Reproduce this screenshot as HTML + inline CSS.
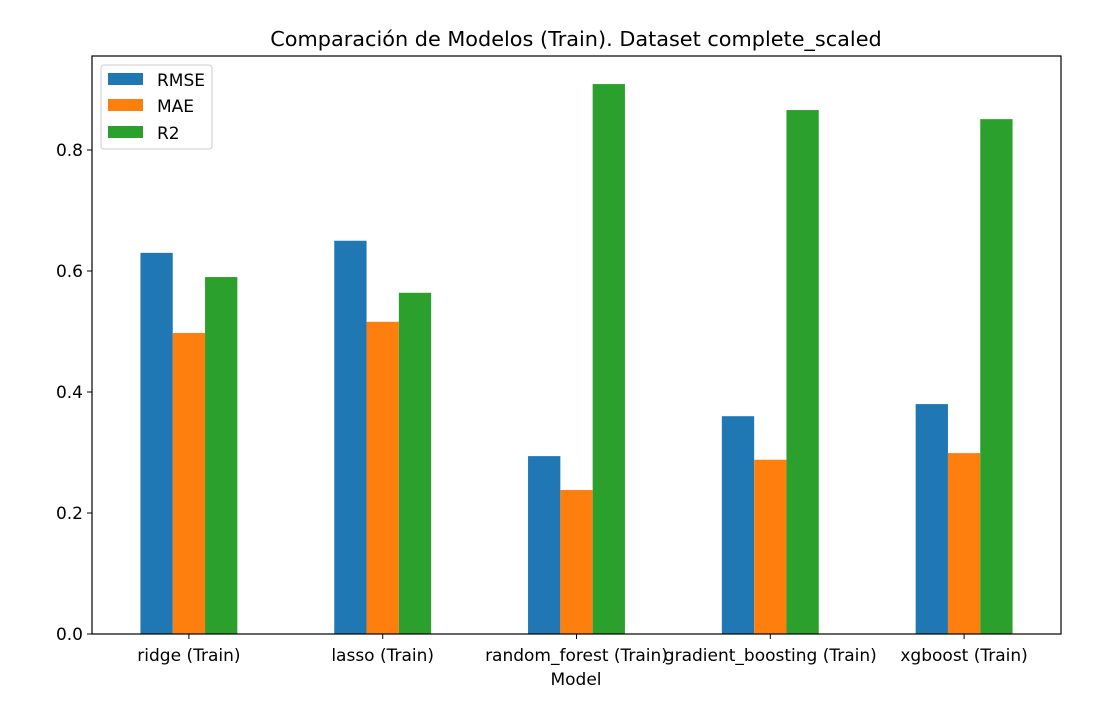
<!DOCTYPE html>
<html><head><meta charset="utf-8"><style>
body{margin:0;background:#fff;font-family:"Liberation Sans","DejaVu Sans",sans-serif;}
</style></head><body>
<svg width="1098" height="705" xmlns="http://www.w3.org/2000/svg" font-family="DejaVu Sans, Liberation Sans, sans-serif">
<rect width="1098" height="705" fill="#fff"/>
<text x="576" y="46" text-anchor="middle" font-size="20.8">Comparación de Modelos (Train). Dataset complete_scaled</text>
<g id="bars"></g>
<g id="yticks"></g>
<g id="xticks"></g>
<rect x="92" y="56" width="969" height="578" fill="none" stroke="#000" stroke-width="1.2"/>
<text x="576" y="685" text-anchor="middle" font-size="17">Model</text>
<g>
<rect x="101" y="65" width="111" height="84" rx="3" fill="#fff" stroke="#ccc" fill-opacity="0.8"/>
<rect x="108" y="73" width="35" height="12" fill="#1f77b4"/>
<text x="157" y="86" font-size="17">RMSE</text>
<rect x="108" y="99" width="35" height="12" fill="#ff7f0e"/>
<text x="157" y="112" font-size="17">MAE</text>
<rect x="108" y="126" width="35" height="12" fill="#2ca02c"/>
<text x="157" y="139" font-size="17">R2</text>
</g>
</svg>
<script>
const categories=["ridge (Train)","lasso (Train)","random_forest (Train)","gradient_boosting (Train)","xgboost (Train)"];
const rmse=[0.630,0.650,0.294,0.360,0.380];
const mae=[0.4975,0.516,0.238,0.288,0.299];
const r2=[0.590,0.564,0.909,0.866,0.851];
const yTicks=[0,0.2,0.4,0.6,0.8];
const seriesNames=["rmse","mae","r2"];
const colors=["#1f77b4","#ff7f0e","#2ca02c"];
const NS="http://www.w3.org/2000/svg";
const x0=92,x1=1061,yBase=634,yScale=605;
const step=(x1-x0)/categories.length;
function xc(i){return x0+step*(i+0.5);}
function y(v){return yBase-v*yScale;}
const bw=step*0.5/3;
const bars=document.getElementById('bars');
[rmse,mae,r2].forEach((s,si)=>{
 s.forEach((v,i)=>{
  const r=document.createElementNS(NS,'rect');
  r.setAttribute('x',xc(i)-step*0.25+si*bw);
  r.setAttribute('y',y(v));
  r.setAttribute('width',bw);
  r.setAttribute('height',yBase-y(v));
  r.setAttribute('fill',colors[si]);
  
  
  bars.appendChild(r);
 });
});
const yt=document.getElementById('yticks');
yTicks.forEach(t=>{
 const l=document.createElementNS(NS,'line');
 l.setAttribute('x1',x0-5);l.setAttribute('x2',x0);l.setAttribute('y1',y(t));l.setAttribute('y2',y(t));l.setAttribute('stroke','#000');
 yt.appendChild(l);
 const tx=document.createElementNS(NS,'text');
 tx.setAttribute('x',x0-9);tx.setAttribute('y',y(t)+6);tx.setAttribute('text-anchor','end');tx.setAttribute('font-size','17');
 tx.textContent=t.toFixed(1);
 
 
 yt.appendChild(tx);
});
const xt=document.getElementById('xticks');
categories.forEach((c,i)=>{
 const l=document.createElementNS(NS,'line');
 l.setAttribute('x1',xc(i));l.setAttribute('x2',xc(i));l.setAttribute('y1',yBase);l.setAttribute('y2',yBase+5);l.setAttribute('stroke','#000');
 xt.appendChild(l);
 const tx=document.createElementNS(NS,'text');
 tx.setAttribute('x',xc(i));tx.setAttribute('y',yBase+27);tx.setAttribute('text-anchor','middle');tx.setAttribute('font-size','17');
 tx.textContent=c;
 
 
 xt.appendChild(tx);
});
</script>
</body></html>
